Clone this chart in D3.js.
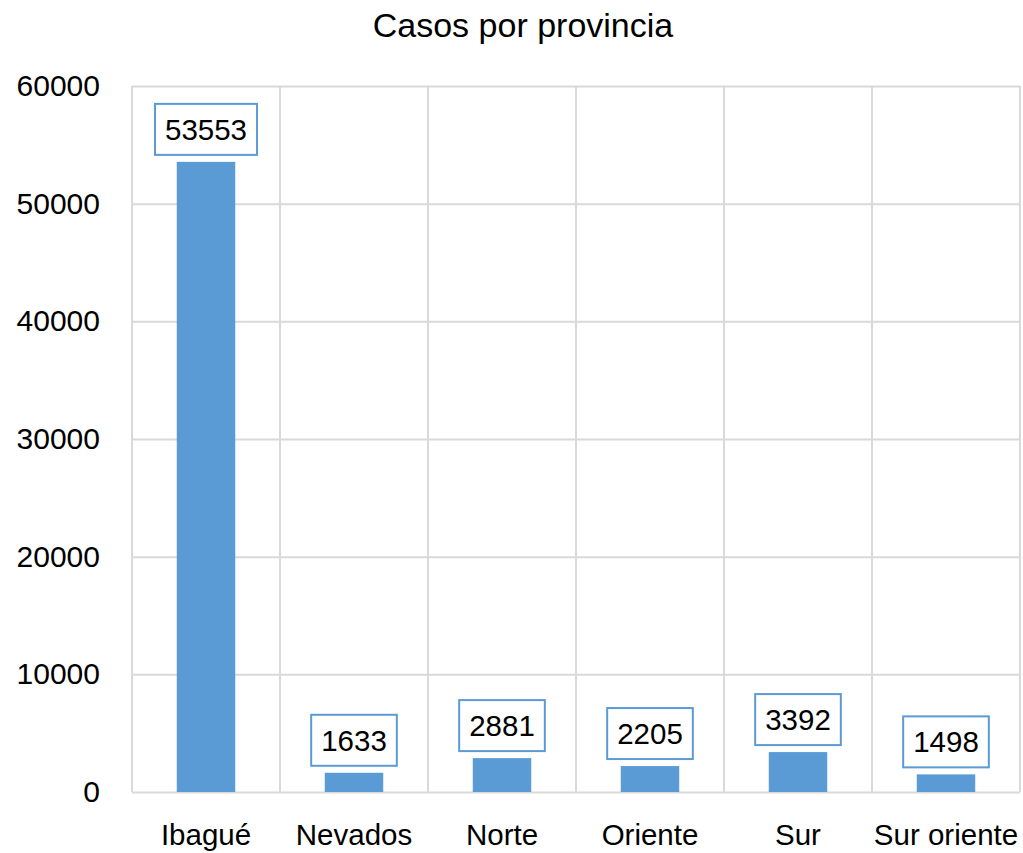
<!DOCTYPE html>
<html><head><meta charset="utf-8">
<script src="https://cdn.jsdelivr.net/npm/d3@7"></script>
<style>body{margin:0;background:#fff}svg{display:block}text{font-family:"Liberation Sans",Arial,sans-serif;fill:#000}</style>
</head><body>
<svg id="c" width="1023" height="853"></svg>
<script>
const categories = ["Ibagué","Nevados","Norte","Oriente","Sur","Sur oriente"];
const values = [53553,1633,2881,2205,3392,1498];
const yTicks = [0,10000,20000,30000,40000,50000,60000];
const title = "Casos por provincia";

const svg = d3.select("#c");
const m = {l:132, r:1020, t:86, b:792};
const x = d3.scaleBand().domain(categories).range([m.l, m.r]).paddingInner(0).paddingOuter(0);
const y = d3.scaleLinear().domain([0,60000]).range([m.b, m.t]);
const grid = "#d9d9d9", blue = "#5b9bd5";

// horizontal grid
svg.append("g").selectAll("line").data(yTicks).join("line")
  .attr("x1", m.l).attr("x2", m.r).attr("y1", d=>y(d)+0.5).attr("y2", d=>y(d)+0.5)
  .attr("stroke", grid).attr("stroke-width", 2);
// vertical grid
const vx = categories.map(c=>x(c)).concat([m.r]);
svg.append("g").selectAll("line").data(vx).join("line")
  .attr("x1", d=>d).attr("x2", d=>d).attr("y1", m.t).attr("y2", m.b)
  .attr("stroke", grid).attr("stroke-width", 2);

// y tick labels
svg.append("g").selectAll("text").data(yTicks).join("text")
  .attr("x", 100).attr("y", d=>y(d)+10).attr("text-anchor","end")
  .style("font-size","30px").text(d=>d);

// bars
const bw = x.bandwidth()*0.395;
svg.append("g").selectAll("rect").data(values).join("rect")
  .attr("x", (d,i)=>x(categories[i])+x.bandwidth()/2-bw/2)
  .attr("width", bw)
  .attr("y", d=>y(d)).attr("height", d=>y(0)-y(d))
  .attr("fill", blue);

// data labels
const lg = svg.append("g");
values.forEach((v,i)=>{
  const cx = x(categories[i])+x.bandwidth()/2;
  const bottom = y(v)-7;
  const g = lg.append("g");
  const r = g.append("rect");
  const t = g.append("text").attr("x", cx).attr("y", bottom-15)
    .attr("text-anchor","middle").style("font-size","29.5px").text(v);
  const w = t.node().getComputedTextLength()+20;
  r.attr("x", cx-w/2).attr("y", bottom-51).attr("width", w).attr("height", 51)
    .attr("fill","#fff").attr("stroke", blue).attr("stroke-width", 2);
});

// x labels
svg.append("g").selectAll("text").data(categories).join("text")
  .attr("x", d=>x(d)+x.bandwidth()/2).attr("y", 845).attr("text-anchor","middle")
  .style("font-size","29.5px").text(d=>d);

// title
svg.append("text").attr("x", 523).attr("y", 37).attr("text-anchor","middle")
  .style("font-size","34px").text(title);
</script>
</body></html>
